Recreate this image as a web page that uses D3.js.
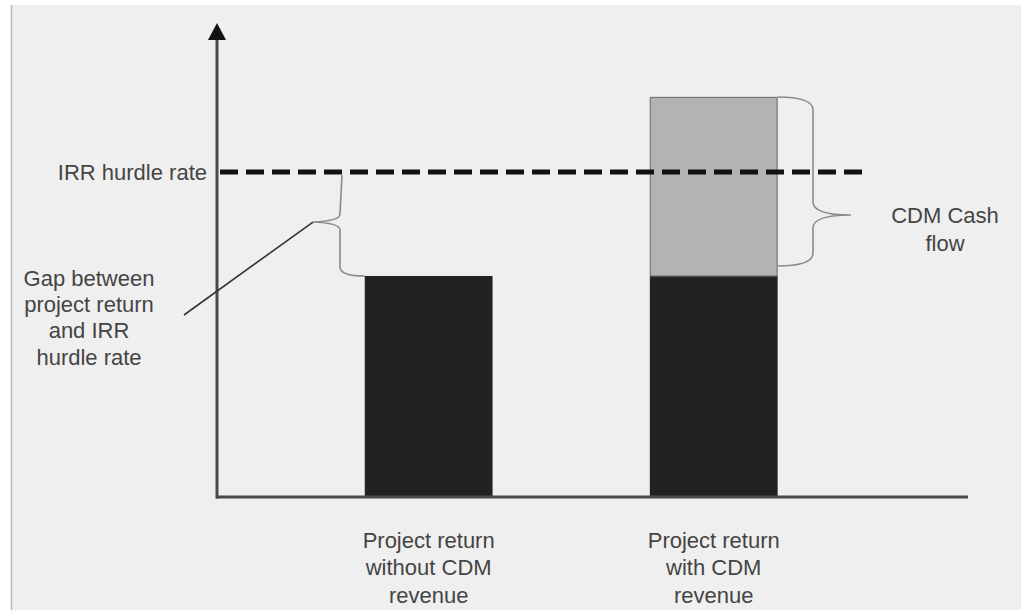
<!DOCTYPE html>
<html>
<head>
<meta charset="utf-8">
<script src="https://cdn.jsdelivr.net/npm/d3@7"></script>
<style>
  html, body { margin: 0; padding: 0; background: #ffffff; }
  svg { display: block; }
  text { font-family: "Liberation Sans", Arial, sans-serif; fill: #444; }
</style>
</head>
<body>
<svg id="chart" width="1021" height="610"></svg>
<script>
// ---- data ----
const categories = ["without", "with"];
const categoryLabels = [
  ["Project return", "without CDM", "revenue"],
  ["Project return", "with CDM", "revenue"]
];
const baseReturn = [50, 50];      // project return (black)
const cdmCashFlow = [0, 40.5];    // CDM cash flow (grey)
const hurdleRate = 73.5;          // IRR hurdle rate (dashed line)
const yMax = 107;
const hurdleLabel = "IRR hurdle rate";
const gapLabel = ["Gap between", "project return", "and IRR", "hurdle rate"];
const cdmLabel = ["CDM Cash", "flow"];

// ---- layout ----
const FS = 22;
const svg = d3.select("#chart");
svg.append("rect").attr("x", 11).attr("y", 5).attr("width", 1010).attr("height", 605).attr("fill", "#efefef");
svg.append("line").attr("x1", 11.5).attr("x2", 11.5).attr("y1", 5).attr("y2", 610)
  .attr("stroke", "#b8b8b8").attr("stroke-width", 1.5);

const x0 = 217, xEnd = 968, yBase = 497, yTop = 24;
const x = d3.scaleBand().domain(categories).range([x0, xEnd])
  .paddingInner(0.5517).paddingOuter(0.593).align(0.437);
const y = d3.scaleLinear().domain([0, yMax]).range([yBase, yTop]);

// bars
const data = categories.map((c, i) => ({ c, base: baseReturn[i], cdm: cdmCashFlow[i] }));
svg.append("g").selectAll("rect").data(data).join("rect")
  .attr("x", d => x(d.c)).attr("width", x.bandwidth())
  .attr("y", d => y(d.base)).attr("height", d => y(0) - y(d.base))
  .attr("fill", "#222");
svg.append("g").selectAll("rect").data(data.filter(d => d.cdm > 0)).join("rect")
  .attr("x", d => x(d.c) + 0.5).attr("width", x.bandwidth() - 1)
  .attr("y", d => y(d.base + d.cdm) + 0.5).attr("height", d => y(d.base) - y(d.base + d.cdm) - 0.5)
  .attr("fill", "#b3b3b3").attr("stroke", "#777").attr("stroke-width", 1.2);

// x axis (domain line only)
const xAxis = svg.append("g").attr("transform", `translate(0,${yBase})`)
  .call(d3.axisBottom(x).tickSize(0).tickSizeOuter(0).tickFormat(""));
xAxis.select(".domain").attr("stroke", "#4a4a4a").attr("stroke-width", 3);
xAxis.select(".domain").attr("d", `M${x0 - 1},0H${xEnd}`);

// y axis with arrow
const yAxis = svg.append("g").attr("transform", `translate(${x0},0)`)
  .call(d3.axisLeft(y).tickValues([]).tickSizeOuter(0));
yAxis.select(".domain").attr("stroke", "#4a4a4a").attr("stroke-width", 3)
  .attr("d", `M0,${yBase + 1.5}V${y(yMax) + 14}`);
svg.append("path")
  .attr("d", `M${x0},${y(yMax) - 1} L${x0 + 9},${y(yMax) + 16} L${x0 - 9},${y(yMax) + 16} Z`)
  .attr("fill", "#111");

// hurdle line
const yH = y(hurdleRate);
svg.append("line").attr("x1", x0 + 3).attr("x2", 862).attr("y1", yH).attr("y2", yH)
  .attr("stroke", "#111").attr("stroke-width", 5).attr("stroke-dasharray", "18,8");
svg.append("text").attr("x", 207).attr("y", yH).attr("dy", "0.35em")
  .attr("text-anchor", "end").attr("font-size", FS).text(hurdleLabel);

// left brace (gap)
const bx = x(categories[0]);
const yB = y(baseReturn[0]);
const lbx = 340, ltip = 313, lmid = (yH + yB) / 2 - 2;
svg.append("path")
  .attr("d", `M${lbx + 2},${yH + 3} L${lbx},${lmid - 8} Q${lbx},${lmid - 1} ${ltip},${lmid}
              Q${lbx},${lmid + 1} ${lbx},${lmid + 8} L${lbx},${yB - 9} Q${lbx},${yB} ${bx},${yB}`)
  .attr("fill", "none").attr("stroke", "#8a8a8a").attr("stroke-width", 1.6);
svg.append("line").attr("x1", ltip).attr("y1", lmid).attr("x2", 184).attr("y2", 315)
  .attr("stroke", "#333").attr("stroke-width", 1.6);
svg.append("g").selectAll("text").data(gapLabel).join("text")
  .attr("x", 89).attr("y", (d, i) => 278 + i * 26.3).attr("dy", "0.35em")
  .attr("text-anchor", "middle").attr("font-size", FS).text(d => d);

// right brace (CDM cash flow)
const rx = x(categories[1]) + x.bandwidth();
const rTop = y(baseReturn[1] + cdmCashFlow[1]);
const rBot = y(baseReturn[1]) - 10;
const rbx = 813, rtip = 851, rmid = 215;
svg.append("path")
  .attr("d", `M${rx},${rTop} Q${rbx},${rTop} ${rbx},${rTop + 13} L${rbx},${rmid - 13} Q${rbx},${rmid} ${rtip},${rmid}
              Q${rbx},${rmid} ${rbx},${rmid + 13} L${rbx},${rBot - 13} Q${rbx},${rBot} ${rx},${rBot}`)
  .attr("fill", "none").attr("stroke", "#8a8a8a").attr("stroke-width", 1.6);
svg.append("g").selectAll("text").data(cdmLabel).join("text")
  .attr("x", 945).attr("y", (d, i) => rmid + i * 28).attr("dy", "0.35em")
  .attr("text-anchor", "middle").attr("font-size", FS).text(d => d);

// category labels
categories.forEach((c, i) => {
  svg.append("g").selectAll("text").data(categoryLabels[i]).join("text")
    .attr("x", x(c) + x.bandwidth() / 2).attr("y", (d, j) => 540 + j * 27.5).attr("dy", "0.35em")
    .attr("text-anchor", "middle").attr("font-size", FS).text(d => d);
});
</script>
</body>
</html>
